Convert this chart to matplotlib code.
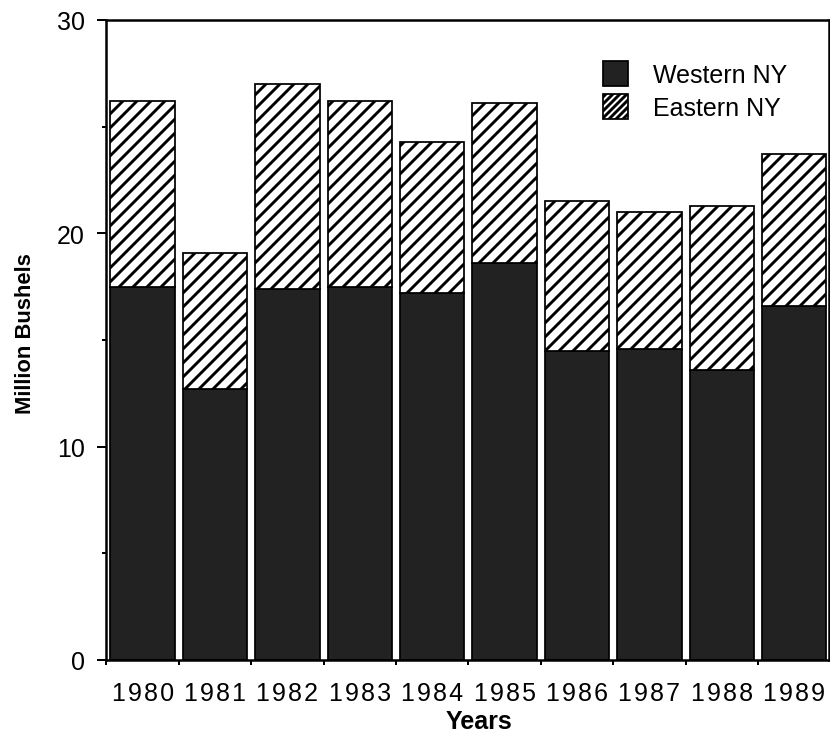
import matplotlib
matplotlib.use("Agg")
import matplotlib.pyplot as plt
from matplotlib.patches import Patch
import numpy as np

# Apple production by region, million bushels
years = ["1980", "1981", "1982", "1983", "1984", "1985", "1986", "1987", "1988", "1989"]
western = [17.5, 12.7, 17.4, 17.5, 17.2, 18.6, 14.5, 14.6, 13.6, 16.6]
eastern = [8.7, 6.4, 9.6, 8.7, 7.1, 7.5, 7.0, 6.4, 7.7, 7.1]
series_labels = ["Western NY", "Eastern NY"]
y_ticks = [0, 10, 20, 30]

DPI = 84
W, H = 830, 734
PT = 72.0 / DPI  # points per pixel

plt.rcParams['font.family'] = ['Liberation Sans', 'DejaVu Sans']
plt.rcParams['hatch.linewidth'] = 2.5

dark = '#222222'

fig = plt.figure(figsize=(W / DPI, H / DPI), dpi=DPI)
ax = fig.add_axes([106 / W, 1 - 661 / H, (829 - 106) / W, 640 / H])

x = np.arange(len(years))
ax.bar(x, western, width=0.89, color=dark, edgecolor='black', linewidth=1.5)
ax.bar(x, eastern, bottom=western, width=0.89, facecolor='white',
       edgecolor='black', hatch='//', linewidth=1.5)

ax.set_xlim(-0.505, 9.48)
ax.set_ylim(0, 30)

fs = 25 * PT

# slightly spaced-out year labels
hair = '\u200a'
ax.set_xticks(x, labels=[hair.join(y) for y in years], fontsize=fs)
ax.set_xticks(np.arange(-0.5, 9, 1), minor=True)
ax.tick_params(axis='x', which='major', length=0, pad=21 * PT)
ax.tick_params(axis='x', which='minor', length=5 * PT, width=2 * PT, direction='out')

ax.set_yticks(y_ticks, labels=[str(v) for v in y_ticks], fontsize=fs)
ax.set_yticks([5, 15, 25], minor=True)
ax.tick_params(axis='y', which='major', length=9 * PT, width=2 * PT, pad=12 * PT)
ax.tick_params(axis='y', which='minor', length=4 * PT, width=2 * PT)

for s in ax.spines.values():
    s.set_linewidth(2.5 * PT)

ax.set_xlabel('Years', fontsize=25 * PT, fontweight='bold', va='center')
ax.xaxis.set_label_coords((479 - 106) / 723, (661 - 722) / 640)
ax.set_ylabel('Million Bushels', fontsize=22 * PT, fontweight='bold', va='center')
ax.yaxis.set_label_coords((26 - 106) / 723, (661 - 334) / 640)

handles = [Patch(facecolor=dark, edgecolor='black', linewidth=1.5),
           Patch(facecolor='white', edgecolor='black', hatch='////', linewidth=1.5)]
ax.legend(handles, series_labels, loc='upper left',
          bbox_to_anchor=((603 - 106) / 723, (661 - 62) / 640),
          frameon=False, fontsize=25 * PT, handlelength=1.0, handleheight=1.15,
          handletextpad=1.0, labelspacing=0.3, borderpad=0, borderaxespad=0)

fig.savefig('out.png', dpi=DPI)
